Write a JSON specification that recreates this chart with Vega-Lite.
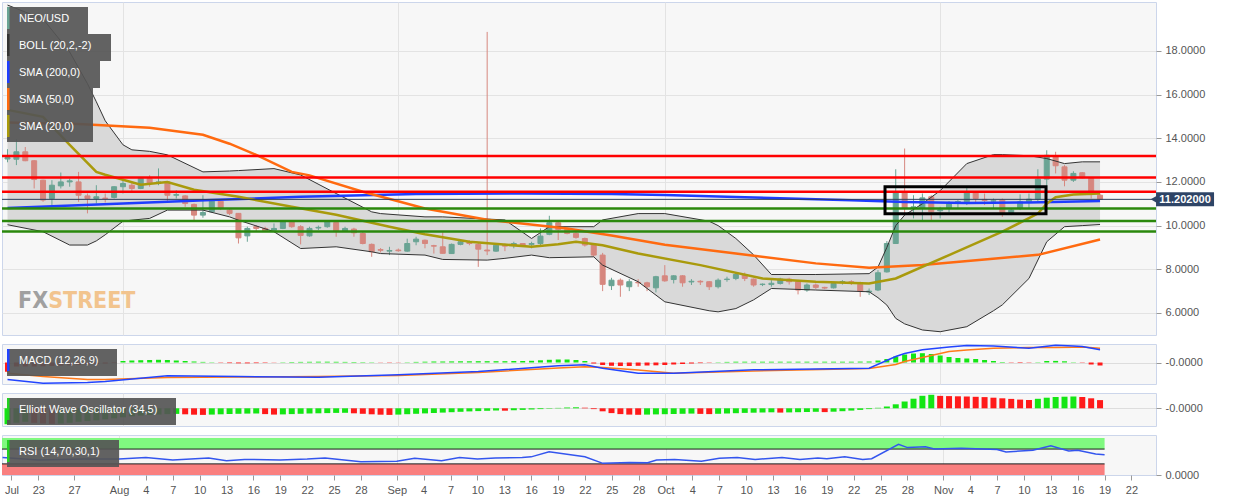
{
 "$schema": "https://vega.github.io/schema/vega-lite/v6.json",
 "padding": {"left": 0, "top": 1, "right": 0, "bottom": 0},
 "background": "#ffffff",
 "spacing": 7,
 "datasets": {
  "ohlc": [
   {"date":"2019-07-19","o":13.05,"h":13.5,"l":12.9,"c":13.12,"mh":-9.3,"ewo":-16,"ec":"up"},
   {"date":"2019-07-20","o":13.04,"h":13.96,"l":12.77,"c":13.38,"mh":-4,"ewo":-14.5,"ec":"up"},
   {"date":"2019-07-21","o":13.38,"h":13.6,"l":12.95,"c":12.97,"mh":-4,"ewo":-13.5,"ec":"up"},
   {"date":"2019-07-22","o":12.97,"h":13.0,"l":11.7,"c":12.11,"mh":-4,"ewo":-14.5,"ec":"dn"},
   {"date":"2019-07-23","o":12.08,"h":12.1,"l":11.09,"c":11.17,"mh":-3.8,"ewo":-15.2,"ec":"dn"},
   {"date":"2019-07-24","o":11.24,"h":12.08,"l":10.86,"c":11.85,"mh":-3.5,"ewo":-15.5,"ec":"dn"},
   {"date":"2019-07-25","o":11.82,"h":12.43,"l":11.7,"c":12.0,"mh":-3.2,"ewo":-15.3,"ec":"up"},
   {"date":"2019-07-26","o":12.0,"h":12.16,"l":11.78,"c":12.05,"mh":-2.8,"ewo":-14.5,"ec":"up"},
   {"date":"2019-07-27","o":12.0,"h":12.46,"l":11.09,"c":11.39,"mh":-2.4,"ewo":-13.5,"ec":"up"},
   {"date":"2019-07-28","o":11.36,"h":11.47,"l":10.56,"c":11.24,"mh":-2,"ewo":-12.8,"ec":"up"},
   {"date":"2019-07-29","o":11.24,"h":11.85,"l":11.01,"c":11.32,"mh":-1.5,"ewo":-12,"ec":"up"},
   {"date":"2019-07-30","o":11.26,"h":11.47,"l":11.06,"c":11.24,"mh":-1,"ewo":-11,"ec":"up"},
   {"date":"2019-07-31","o":11.29,"h":11.8,"l":11.24,"c":11.78,"mh":-0.5,"ewo":-10,"ec":"up"},
   {"date":"2019-08-01","o":11.78,"h":12.16,"l":11.47,"c":11.93,"mh":1.5,"ewo":-9,"ec":"up"},
   {"date":"2019-08-02","o":11.85,"h":12.0,"l":11.55,"c":11.7,"mh":2,"ewo":-8,"ec":"up"},
   {"date":"2019-08-03","o":11.7,"h":12.18,"l":11.67,"c":12.16,"mh":2.3,"ewo":-7.3,"ec":"up"},
   {"date":"2019-08-04","o":12.16,"h":12.31,"l":11.78,"c":11.93,"mh":2.5,"ewo":-6.7,"ec":"up"},
   {"date":"2019-08-05","o":11.95,"h":12.62,"l":11.85,"c":12.0,"mh":2.7,"ewo":-6.2,"ec":"up"},
   {"date":"2019-08-06","o":12.0,"h":12.02,"l":11.09,"c":11.39,"mh":2.5,"ewo":-5.8,"ec":"up"},
   {"date":"2019-08-07","o":11.39,"h":11.62,"l":11.24,"c":11.42,"mh":2,"ewo":-5.6,"ec":"up"},
   {"date":"2019-08-08","o":11.36,"h":11.39,"l":10.86,"c":11.01,"mh":1.5,"ewo":-6,"ec":"dn"},
   {"date":"2019-08-09","o":10.97,"h":11.01,"l":10.25,"c":10.48,"mh":1,"ewo":-6.4,"ec":"dn"},
   {"date":"2019-08-10","o":10.48,"h":11.39,"l":10.36,"c":10.6,"mh":0.6,"ewo":-6.6,"ec":"dn"},
   {"date":"2019-08-11","o":10.63,"h":11.17,"l":10.6,"c":11.12,"mh":0.3,"ewo":-6.3,"ec":"up"},
   {"date":"2019-08-12","o":11.12,"h":11.17,"l":10.71,"c":10.78,"mh":-0.3,"ewo":-6,"ec":"up"},
   {"date":"2019-08-13","o":10.71,"h":10.78,"l":10.48,"c":10.56,"mh":-0.6,"ewo":-5.7,"ec":"up"},
   {"date":"2019-08-14","o":10.56,"h":10.57,"l":9.18,"c":9.44,"mh":-0.8,"ewo":-5.5,"ec":"up"},
   {"date":"2019-08-15","o":9.53,"h":9.95,"l":9.26,"c":9.87,"mh":-0.8,"ewo":-5.3,"ec":"up"},
   {"date":"2019-08-16","o":9.95,"h":10.02,"l":9.72,"c":9.87,"mh":-0.6,"ewo":-5.2,"ec":"up"},
   {"date":"2019-08-17","o":9.87,"h":9.95,"l":9.72,"c":9.76,"mh":-0.4,"ewo":-5.8,"ec":"dn"},
   {"date":"2019-08-18","o":9.79,"h":10.1,"l":9.72,"c":9.87,"mh":-0.2,"ewo":-6.3,"ec":"dn"},
   {"date":"2019-08-19","o":9.87,"h":10.2,"l":9.84,"c":10.17,"mh":0.3,"ewo":-6.1,"ec":"up"},
   {"date":"2019-08-20","o":10.2,"h":10.25,"l":9.9,"c":9.95,"mh":0.5,"ewo":-5.8,"ec":"up"},
   {"date":"2019-08-21","o":9.95,"h":10.02,"l":9.14,"c":9.55,"mh":0.6,"ewo":-5.5,"ec":"up"},
   {"date":"2019-08-22","o":9.53,"h":9.95,"l":9.49,"c":9.87,"mh":0.7,"ewo":-5.2,"ec":"up"},
   {"date":"2019-08-23","o":9.89,"h":10.0,"l":9.8,"c":9.92,"mh":0.8,"ewo":-5,"ec":"up"},
   {"date":"2019-08-24","o":9.95,"h":10.25,"l":9.9,"c":10.17,"mh":0.8,"ewo":-4.8,"ec":"up"},
   {"date":"2019-08-25","o":10.14,"h":10.2,"l":9.49,"c":9.75,"mh":0.7,"ewo":-4.6,"ec":"up"},
   {"date":"2019-08-26","o":9.75,"h":9.95,"l":9.72,"c":9.87,"mh":0.6,"ewo":-4.5,"ec":"up"},
   {"date":"2019-08-27","o":9.84,"h":9.9,"l":9.49,"c":9.67,"mh":0.5,"ewo":-5,"ec":"dn"},
   {"date":"2019-08-28","o":9.64,"h":9.72,"l":9.14,"c":9.18,"mh":0.4,"ewo":-5.5,"ec":"dn"},
   {"date":"2019-08-29","o":9.14,"h":9.18,"l":8.57,"c":8.8,"mh":0.3,"ewo":-6,"ec":"dn"},
   {"date":"2019-08-30","o":8.9,"h":8.97,"l":8.77,"c":8.87,"mh":-0.2,"ewo":-6.4,"ec":"dn"},
   {"date":"2019-08-31","o":8.83,"h":9.03,"l":8.65,"c":8.86,"mh":-0.3,"ewo":-6.6,"ec":"dn"},
   {"date":"2019-09-01","o":8.88,"h":8.95,"l":8.8,"c":8.85,"mh":-0.2,"ewo":-6.3,"ec":"up"},
   {"date":"2019-09-02","o":8.83,"h":9.4,"l":8.8,"c":9.18,"mh":0.3,"ewo":-5.9,"ec":"up"},
   {"date":"2019-09-03","o":9.26,"h":9.49,"l":9.1,"c":9.38,"mh":0.6,"ewo":-5.5,"ec":"up"},
   {"date":"2019-09-04","o":9.33,"h":9.36,"l":8.96,"c":9.18,"mh":0.8,"ewo":-5.1,"ec":"up"},
   {"date":"2019-09-05","o":9.08,"h":9.12,"l":8.72,"c":9.06,"mh":1,"ewo":-4.7,"ec":"up"},
   {"date":"2019-09-06","o":9.03,"h":9.69,"l":8.72,"c":8.73,"mh":1,"ewo":-4.3,"ec":"up"},
   {"date":"2019-09-07","o":8.72,"h":9.18,"l":8.7,"c":9.14,"mh":1.1,"ewo":-3.9,"ec":"up"},
   {"date":"2019-09-08","o":9.14,"h":9.3,"l":9.1,"c":9.26,"mh":1.2,"ewo":-3.5,"ec":"up"},
   {"date":"2019-09-09","o":9.26,"h":9.33,"l":9.1,"c":9.18,"mh":1.2,"ewo":-3.1,"ec":"up"},
   {"date":"2019-09-10","o":9.14,"h":9.2,"l":8.11,"c":8.92,"mh":1.3,"ewo":-2.8,"ec":"up"},
   {"date":"2019-09-11","o":8.88,"h":18.87,"l":8.65,"c":8.84,"mh":1.3,"ewo":-2.5,"ec":"up"},
   {"date":"2019-09-12","o":8.83,"h":9.18,"l":8.8,"c":9.1,"mh":1.3,"ewo":-2.2,"ec":"up"},
   {"date":"2019-09-13","o":9.1,"h":9.18,"l":8.83,"c":9.06,"mh":1.3,"ewo":-2.4,"ec":"dn"},
   {"date":"2019-09-14","o":9.1,"h":9.26,"l":8.96,"c":9.18,"mh":1.4,"ewo":-2,"ec":"up"},
   {"date":"2019-09-15","o":9.18,"h":9.2,"l":9.05,"c":9.1,"mh":1.5,"ewo":-1.6,"ec":"up"},
   {"date":"2019-09-16","o":9.14,"h":9.26,"l":8.96,"c":9.18,"mh":1.7,"ewo":-1.2,"ec":"up"},
   {"date":"2019-09-17","o":9.18,"h":9.87,"l":9.1,"c":9.52,"mh":2.2,"ewo":-0.8,"ec":"up"},
   {"date":"2019-09-18","o":9.6,"h":10.45,"l":9.56,"c":10.13,"mh":2.7,"ewo":-0.4,"ec":"up"},
   {"date":"2019-09-19","o":10.13,"h":10.18,"l":9.34,"c":9.82,"mh":3,"ewo":0.4,"ec":"up"},
   {"date":"2019-09-20","o":9.82,"h":9.9,"l":9.6,"c":9.64,"mh":3,"ewo":0.8,"ec":"up"},
   {"date":"2019-09-21","o":9.64,"h":9.7,"l":9.4,"c":9.46,"mh":2.5,"ewo":1,"ec":"up"},
   {"date":"2019-09-22","o":9.41,"h":9.45,"l":9.04,"c":9.11,"mh":1.5,"ewo":0.6,"ec":"dn"},
   {"date":"2019-09-23","o":9.15,"h":9.2,"l":8.57,"c":8.65,"mh":-1,"ewo":-0.8,"ec":"dn"},
   {"date":"2019-09-24","o":8.65,"h":8.75,"l":7.0,"c":7.31,"mh":-2.5,"ewo":-3,"ec":"dn"},
   {"date":"2019-09-25","o":7.25,"h":7.61,"l":7.05,"c":7.5,"mh":-3.3,"ewo":-4.8,"ec":"dn"},
   {"date":"2019-09-26","o":7.5,"h":7.58,"l":6.74,"c":7.28,"mh":-3.5,"ewo":-5.8,"ec":"dn"},
   {"date":"2019-09-27","o":7.2,"h":7.55,"l":7.0,"c":7.43,"mh":-3.5,"ewo":-6.3,"ec":"dn"},
   {"date":"2019-09-28","o":7.4,"h":7.55,"l":7.2,"c":7.38,"mh":-3.3,"ewo":-6.5,"ec":"dn"},
   {"date":"2019-09-29","o":7.38,"h":7.43,"l":7.0,"c":7.2,"mh":-3,"ewo":-6.3,"ec":"up"},
   {"date":"2019-09-30","o":7.15,"h":7.7,"l":6.94,"c":7.66,"mh":-2.8,"ewo":-6.1,"ec":"up"},
   {"date":"2019-10-01","o":7.7,"h":8.19,"l":7.43,"c":7.47,"mh":-2.5,"ewo":-5.9,"ec":"up"},
   {"date":"2019-10-02","o":7.53,"h":7.73,"l":7.35,"c":7.7,"mh":-2,"ewo":-5.7,"ec":"up"},
   {"date":"2019-10-03","o":7.7,"h":7.73,"l":7.2,"c":7.38,"mh":-1.5,"ewo":-5.5,"ec":"up"},
   {"date":"2019-10-04","o":7.42,"h":7.55,"l":7.28,"c":7.45,"mh":-1,"ewo":-5.3,"ec":"up"},
   {"date":"2019-10-05","o":7.45,"h":7.5,"l":7.28,"c":7.42,"mh":-0.6,"ewo":-5.6,"ec":"dn"},
   {"date":"2019-10-06","o":7.43,"h":7.46,"l":7.05,"c":7.2,"mh":-0.3,"ewo":-5.8,"ec":"dn"},
   {"date":"2019-10-07","o":7.2,"h":7.58,"l":7.12,"c":7.5,"mh":0.3,"ewo":-5.5,"ec":"up"},
   {"date":"2019-10-08","o":7.53,"h":7.66,"l":7.43,"c":7.55,"mh":0.6,"ewo":-5.2,"ec":"up"},
   {"date":"2019-10-09","o":7.58,"h":7.85,"l":7.5,"c":7.76,"mh":0.8,"ewo":-4.9,"ec":"up"},
   {"date":"2019-10-10","o":7.76,"h":7.85,"l":7.46,"c":7.58,"mh":0.8,"ewo":-4.6,"ec":"up"},
   {"date":"2019-10-11","o":7.55,"h":7.58,"l":7.2,"c":7.28,"mh":0.8,"ewo":-4.4,"ec":"up"},
   {"date":"2019-10-12","o":7.3,"h":7.35,"l":7.23,"c":7.32,"mh":0.8,"ewo":-4.2,"ec":"up"},
   {"date":"2019-10-13","o":7.3,"h":7.5,"l":7.2,"c":7.36,"mh":0.8,"ewo":-4,"ec":"up"},
   {"date":"2019-10-14","o":7.35,"h":7.61,"l":7.3,"c":7.55,"mh":0.8,"ewo":-4.3,"ec":"dn"},
   {"date":"2019-10-15","o":7.55,"h":7.61,"l":7.3,"c":7.43,"mh":0.8,"ewo":-4.1,"ec":"up"},
   {"date":"2019-10-16","o":7.43,"h":7.46,"l":6.85,"c":7.05,"mh":0.8,"ewo":-3.9,"ec":"up"},
   {"date":"2019-10-17","o":7.05,"h":7.35,"l":6.97,"c":7.28,"mh":0.8,"ewo":-3.7,"ec":"up"},
   {"date":"2019-10-18","o":7.28,"h":7.35,"l":7.09,"c":7.17,"mh":0.8,"ewo":-3.5,"ec":"up"},
   {"date":"2019-10-19","o":7.17,"h":7.2,"l":7.09,"c":7.14,"mh":0.8,"ewo":-3.8,"ec":"dn"},
   {"date":"2019-10-20","o":7.15,"h":7.43,"l":7.12,"c":7.35,"mh":0.8,"ewo":-3.4,"ec":"up"},
   {"date":"2019-10-21","o":7.42,"h":7.5,"l":7.3,"c":7.44,"mh":0.8,"ewo":-2.9,"ec":"up"},
   {"date":"2019-10-22","o":7.43,"h":7.5,"l":7.28,"c":7.35,"mh":0.8,"ewo":-2.3,"ec":"up"},
   {"date":"2019-10-23","o":7.31,"h":7.43,"l":6.74,"c":7.0,"mh":0.9,"ewo":-1.6,"ec":"up"},
   {"date":"2019-10-24","o":6.96,"h":7.12,"l":6.82,"c":7.0,"mh":1,"ewo":-0.8,"ec":"up"},
   {"date":"2019-10-25","o":7.05,"h":7.96,"l":7.0,"c":7.84,"mh":2,"ewo":0.5,"ec":"up"},
   {"date":"2019-10-26","o":7.88,"h":9.29,"l":7.85,"c":9.18,"mh":3.5,"ewo":1.8,"ec":"up"},
   {"date":"2019-10-27","o":9.18,"h":12.58,"l":9.18,"c":11.55,"mh":6,"ewo":4,"ec":"up"},
   {"date":"2019-10-28","o":11.55,"h":13.53,"l":10.55,"c":10.81,"mh":8,"ewo":6.8,"ec":"up"},
   {"date":"2019-10-29","o":10.78,"h":11.39,"l":10.33,"c":10.86,"mh":9,"ewo":9.6,"ec":"up"},
   {"date":"2019-10-30","o":10.81,"h":11.47,"l":10.25,"c":11.27,"mh":9.3,"ewo":12.5,"ec":"up"},
   {"date":"2019-10-31","o":11.32,"h":11.39,"l":10.25,"c":10.63,"mh":8.5,"ewo":13.5,"ec":"up"},
   {"date":"2019-11-01","o":10.68,"h":10.86,"l":10.33,"c":10.72,"mh":7,"ewo":12.4,"ec":"dn"},
   {"date":"2019-11-02","o":10.81,"h":11.12,"l":10.6,"c":11.01,"mh":5.5,"ewo":12.2,"ec":"dn"},
   {"date":"2019-11-03","o":11.08,"h":11.17,"l":10.78,"c":11.1,"mh":4.5,"ewo":12,"ec":"dn"},
   {"date":"2019-11-04","o":11.09,"h":11.73,"l":10.94,"c":11.55,"mh":4,"ewo":11.8,"ec":"dn"},
   {"date":"2019-11-05","o":11.52,"h":11.55,"l":11.06,"c":11.24,"mh":3.5,"ewo":11.5,"ec":"dn"},
   {"date":"2019-11-06","o":11.2,"h":11.47,"l":10.94,"c":11.15,"mh":2.5,"ewo":11.2,"ec":"dn"},
   {"date":"2019-11-07","o":11.12,"h":11.24,"l":10.78,"c":11.14,"mh":1.5,"ewo":10.6,"ec":"dn"},
   {"date":"2019-11-08","o":11.17,"h":11.24,"l":10.4,"c":10.6,"mh":0.5,"ewo":10,"ec":"dn"},
   {"date":"2019-11-09","o":10.6,"h":10.78,"l":10.48,"c":10.71,"mh":-0.3,"ewo":9.4,"ec":"dn"},
   {"date":"2019-11-10","o":10.78,"h":11.43,"l":10.71,"c":11.09,"mh":-0.5,"ewo":8.7,"ec":"dn"},
   {"date":"2019-11-11","o":11.09,"h":11.47,"l":10.78,"c":11.21,"mh":-0.3,"ewo":8.4,"ec":"dn"},
   {"date":"2019-11-12","o":11.21,"h":12.58,"l":11.09,"c":12.13,"mh":0.3,"ewo":9.5,"ec":"up"},
   {"date":"2019-11-13","o":12.13,"h":13.45,"l":11.58,"c":13.22,"mh":1.5,"ewo":10.6,"ec":"up"},
   {"date":"2019-11-14","o":13.18,"h":13.38,"l":12.39,"c":12.74,"mh":1.6,"ewo":11.3,"ec":"up"},
   {"date":"2019-11-15","o":12.69,"h":12.77,"l":11.8,"c":12.08,"mh":1.2,"ewo":11.6,"ec":"up"},
   {"date":"2019-11-16","o":12.08,"h":12.49,"l":12.0,"c":12.39,"mh":0.3,"ewo":11.8,"ec":"up"},
   {"date":"2019-11-17","o":12.42,"h":12.45,"l":12.16,"c":12.19,"mh":-0.3,"ewo":11.3,"ec":"dn"},
   {"date":"2019-11-18","o":12.16,"h":12.2,"l":11.24,"c":11.42,"mh":-2,"ewo":10,"ec":"dn"},
   {"date":"2019-11-19","o":11.39,"h":11.47,"l":11.2,"c":11.202,"mh":-3,"ewo":8.2,"ec":"dn"}
  ],
  "boll": [
   {"date":"2019-07-19","up":20.1,"lo":10.04},{"date":"2019-07-23","up":19.46,"lo":9.72},
   {"date":"2019-07-26","up":17.95,"lo":9.11},{"date":"2019-07-28","up":16.5,"lo":9.11},
   {"date":"2019-07-29","up":15.67,"lo":9.3},{"date":"2019-07-30","up":14.8,"lo":9.58},
   {"date":"2019-08-01","up":13.7,"lo":10.2},{"date":"2019-08-02","up":13.47,"lo":10.25},
   {"date":"2019-08-04","up":13.4,"lo":10.33},{"date":"2019-08-06","up":13.24,"lo":10.71},
   {"date":"2019-08-10","up":12.46,"lo":10.71},{"date":"2019-08-13","up":12.5,"lo":10.4},
   {"date":"2019-08-14","up":12.52,"lo":10.25},{"date":"2019-08-18","up":12.61,"lo":9.72},
   {"date":"2019-08-21","up":12.32,"lo":8.95},{"date":"2019-08-25","up":11.47,"lo":9.03},
   {"date":"2019-08-29","up":10.63,"lo":8.8},{"date":"2019-08-30","up":10.55,"lo":8.72},
   {"date":"2019-09-04","up":10.4,"lo":8.65},{"date":"2019-09-06","up":10.4,"lo":8.45},
   {"date":"2019-09-11","up":10.3,"lo":8.42},{"date":"2019-09-13","up":10.26,"lo":8.5},
   {"date":"2019-09-16","up":9.41,"lo":8.65},{"date":"2019-09-18","up":9.95,"lo":8.53},
   {"date":"2019-09-23","up":9.95,"lo":8.57},{"date":"2019-09-24","up":10.26,"lo":8.19},
   {"date":"2019-09-28","up":10.55,"lo":7.43},{"date":"2019-10-01","up":10.55,"lo":6.51},
   {"date":"2019-10-06","up":10.2,"lo":6.1},{"date":"2019-10-07","up":10.0,"lo":6.05},
   {"date":"2019-10-09","up":9.41,"lo":6.2},{"date":"2019-10-11","up":8.66,"lo":6.6},
   {"date":"2019-10-13","up":7.76,"lo":7.12},{"date":"2019-10-18","up":7.76,"lo":7.05},
   {"date":"2019-10-24","up":7.8,"lo":6.97},{"date":"2019-10-25","up":8.1,"lo":6.7},
   {"date":"2019-10-26","up":9.0,"lo":6.36},{"date":"2019-10-27","up":10.0,"lo":5.75},
   {"date":"2019-10-28","up":10.48,"lo":5.5},{"date":"2019-10-30","up":11.0,"lo":5.22},
   {"date":"2019-11-01","up":11.6,"lo":5.14},{"date":"2019-11-04","up":12.84,"lo":5.37},
   {"date":"2019-11-07","up":13.25,"lo":6.1},{"date":"2019-11-08","up":13.25,"lo":6.37},
   {"date":"2019-11-11","up":13.2,"lo":7.58},{"date":"2019-11-13","up":13.07,"lo":9.26},
   {"date":"2019-11-15","up":12.84,"lo":9.95},{"date":"2019-11-17","up":12.92,"lo":10.0},
   {"date":"2019-11-19","up":12.92,"lo":10.05}
  ],
  "sma200": [
   {"date":"2019-07-19","v":10.81},{"date":"2019-08-01","v":11.01},{"date":"2019-08-11","v":11.17},
   {"date":"2019-08-21","v":11.32},{"date":"2019-09-03","v":11.45},{"date":"2019-09-15","v":11.47},
   {"date":"2019-09-25","v":11.45},{"date":"2019-10-01","v":11.4},{"date":"2019-10-10","v":11.3},
   {"date":"2019-10-15","v":11.24},{"date":"2019-10-22","v":11.16},{"date":"2019-10-28","v":11.08},
   {"date":"2019-11-04","v":11.04},{"date":"2019-11-11","v":11.06},{"date":"2019-11-19","v":11.13}
  ],
  "sma50": [
   {"date":"2019-07-19","v":14.72},{"date":"2019-07-27","v":14.65},{"date":"2019-08-04","v":14.48},
   {"date":"2019-08-10","v":14.16},{"date":"2019-08-13","v":13.75},{"date":"2019-08-16","v":13.24},
   {"date":"2019-08-20","v":12.46},{"date":"2019-08-22","v":12.3},{"date":"2019-08-28","v":11.55},
   {"date":"2019-09-04","v":10.78},{"date":"2019-09-11","v":10.27},{"date":"2019-09-20","v":9.87},
   {"date":"2019-09-25","v":9.55},{"date":"2019-10-01","v":9.12},{"date":"2019-10-09","v":8.72},
   {"date":"2019-10-18","v":8.27},{"date":"2019-10-24","v":8.07},{"date":"2019-10-30","v":8.2},
   {"date":"2019-11-06","v":8.45},{"date":"2019-11-12","v":8.66},{"date":"2019-11-19","v":9.36}
  ],
  "sma20": [
   {"date":"2019-07-19","v":15.3},{"date":"2019-07-23","v":14.98},{"date":"2019-07-26","v":13.7},
   {"date":"2019-07-29","v":12.46},{"date":"2019-07-30","v":12.33},{"date":"2019-08-03","v":11.87},
   {"date":"2019-08-06","v":12.0},{"date":"2019-08-09","v":11.64},{"date":"2019-08-14","v":11.32},
   {"date":"2019-08-20","v":10.86},{"date":"2019-08-25","v":10.5},{"date":"2019-08-31","v":9.95},
   {"date":"2019-09-04","v":9.6},{"date":"2019-09-09","v":9.26},{"date":"2019-09-16","v":9.03},
   {"date":"2019-09-19","v":9.15},{"date":"2019-09-21","v":9.26},{"date":"2019-09-24","v":9.1},
   {"date":"2019-09-28","v":8.72},{"date":"2019-10-05","v":8.19},{"date":"2019-10-12","v":7.58},
   {"date":"2019-10-18","v":7.43},{"date":"2019-10-24","v":7.35},{"date":"2019-10-27","v":7.58},
   {"date":"2019-11-02","v":8.65},{"date":"2019-11-08","v":9.72},{"date":"2019-11-12","v":10.55},
   {"date":"2019-11-13","v":11.0},{"date":"2019-11-14","v":11.3},{"date":"2019-11-16","v":11.42},
   {"date":"2019-11-19","v":11.47}
  ],
  "macd": [
   {"date":"2019-07-19","m":-17,"s":-10.7},{"date":"2019-07-23","m":-20.7,"s":-14},
   {"date":"2019-07-28","m":-20,"s":-17},{"date":"2019-07-30","m":-19,"s":-17},
   {"date":"2019-08-06","m":-13.3,"s":-15},{"date":"2019-08-14","m":-14,"s":-14.5},
   {"date":"2019-08-23","m":-14.7,"s":-14},{"date":"2019-09-01","m":-12.3,"s":-13},
   {"date":"2019-09-10","m":-9,"s":-10},{"date":"2019-09-19","m":-3.3,"s":-5.5},
   {"date":"2019-09-22","m":-2.3,"s":-4.3},{"date":"2019-09-24","m":-5.7,"s":-5},
   {"date":"2019-09-28","m":-10.7,"s":-7.5},{"date":"2019-10-02","m":-10.7,"s":-10.7},
   {"date":"2019-10-11","m":-7.3,"s":-8.5},{"date":"2019-10-24","m":-5.7,"s":-6},
   {"date":"2019-10-27","m":6,"s":-2},{"date":"2019-10-28","m":9,"s":1},
   {"date":"2019-10-30","m":12.7,"s":5},{"date":"2019-11-02","m":15.5,"s":11},
   {"date":"2019-11-04","m":17,"s":12.5},{"date":"2019-11-07","m":16.5,"s":14.3},
   {"date":"2019-11-11","m":14.3,"s":15},{"date":"2019-11-14","m":17.3,"s":15},
   {"date":"2019-11-16","m":16.5,"s":15.3},{"date":"2019-11-17","m":16,"s":15.5},
   {"date":"2019-11-19","m":12.7,"s":14.3}
  ],
  "rsi": [
   {"date":"2019-07-19","v":47},{"date":"2019-07-23","v":40.5},{"date":"2019-07-28","v":43},
   {"date":"2019-08-01","v":43},{"date":"2019-08-04","v":47},{"date":"2019-08-07","v":40.5},
   {"date":"2019-08-11","v":46},{"date":"2019-08-13","v":38.7},{"date":"2019-08-15","v":42},
   {"date":"2019-08-19","v":40.5},{"date":"2019-08-22","v":43},{"date":"2019-08-24","v":46},
   {"date":"2019-08-28","v":36},{"date":"2019-09-01","v":37},{"date":"2019-09-03","v":45},
   {"date":"2019-09-06","v":38.7},{"date":"2019-09-08","v":47},{"date":"2019-09-10","v":43},
   {"date":"2019-09-12","v":46},{"date":"2019-09-15","v":47},{"date":"2019-09-16","v":49},
   {"date":"2019-09-18","v":63},{"date":"2019-09-22","v":49},{"date":"2019-09-24","v":31.5},
   {"date":"2019-09-27","v":34},{"date":"2019-09-29","v":33},{"date":"2019-09-30","v":40.5},
   {"date":"2019-10-02","v":42},{"date":"2019-10-05","v":37},{"date":"2019-10-07","v":45},
   {"date":"2019-10-09","v":47},{"date":"2019-10-11","v":42},{"date":"2019-10-14","v":47},
   {"date":"2019-10-16","v":42},{"date":"2019-10-18","v":46},{"date":"2019-10-19","v":44},
   {"date":"2019-10-21","v":49},{"date":"2019-10-23","v":42},{"date":"2019-10-24","v":44},
   {"date":"2019-10-27","v":83},{"date":"2019-10-28","v":74},{"date":"2019-10-30","v":76},
   {"date":"2019-10-31","v":70},{"date":"2019-11-03","v":72.5},{"date":"2019-11-07","v":69},
   {"date":"2019-11-08","v":62},{"date":"2019-11-11","v":67},{"date":"2019-11-13","v":79},
   {"date":"2019-11-15","v":65},{"date":"2019-11-16","v":67},{"date":"2019-11-18","v":56.5},
   {"date":"2019-11-19","v":55}
  ],
  "levels": [
   {"p":13.19,"k":"r"},{"p":12.2,"k":"r"},{"p":11.55,"k":"r"},
   {"p":10.78,"k":"g"},{"p":10.21,"k":"g"},{"p":9.73,"k":"g"}
  ],
  "last": [{"date":"2019-11-19","p":11.202,"lab":"11.202000"}],
  "box": [{"s":"2019-10-25T19:00:00Z","e":"2019-11-12T22:00:00Z","t":11.78,"b":10.54}],
  "zones": [
   {"s":"2019-07-18","e":"2019-11-19","lo":70,"hi":100,"edge":70,"z":"ob"},
   {"s":"2019-07-18","e":"2019-11-19","lo":0,"hi":30,"edge":30,"z":"os"}
  ],
  "wm": [{"a":"FX","b":"STREET"}]
 },
 "vconcat": [
  {
   "width": 1154, "height": 333,
   "layer": [
    {"data": {"name": "boll"},
     "mark": {"type": "area", "color": "#d9d9d9", "clip": true},
     "encoding": {
      "x": {"field": "date", "type": "temporal", "title": null,
            "scale": {"type": "utc", "domain": [1563489400000, 1574617300000]},
            "axis": {"values": [1564617600000, 1567296000000, 1569888000000, 1572566400000], "tickCount": 100, "labels": false, "ticks": false, "grid": true}},
      "y": {"field": "up", "type": "quantitative", "title": null,
            "scale": {"domain": [4.99, 20.24], "nice": false, "zero": false},
            "axis": {"orient": "right", "values": [6, 8, 10, 12, 14, 16, 18], "format": ".4f", "grid": true}},
      "y2": {"field": "lo"}
     }},
    {"data": {"name": "ohlc"},
     "mark": {"type": "rule", "strokeWidth": 1, "clip": true},
     "encoding": {
      "x": {"field": "date", "type": "temporal", "title": null},
      "y": {"field": "l", "type": "quantitative", "title": null},
      "y2": {"field": "h"},
      "color": {"condition": {"test": "datum.c < datum.o", "value": "#d6877f"}, "datum": "NEO/USD",
                "scale": {"range": ["#6aa494"]},
                "legend": {"title": null, "symbolType": "M-1.417,-1.833V5.5", "labelExpr": "datum.label + '      \u200b'",
                           "encode": {"symbols": {"update": {"stroke": {"value": "#2e8b78"}, "strokeWidth": {"value": 2.5}}}}}}
     }},
    {"data": {"name": "ohlc"},
     "mark": {"type": "bar", "width": 5, "strokeWidth": 1, "clip": true},
     "encoding": {
      "x": {"field": "date", "type": "temporal", "title": null},
      "y": {"field": "o", "type": "quantitative", "title": null},
      "y2": {"field": "c"},
      "color": {"condition": {"test": "datum.c < datum.o", "value": "#d6877f"}, "value": "#6aa494"},
      "stroke": {"condition": {"test": "datum.c < datum.o", "value": "#d6877f"}, "value": "#6aa494"}
     }},
    {"data": {"name": "boll"},
     "mark": {"type": "line", "strokeWidth": 1, "clip": true},
     "encoding": {
      "x": {"field": "date", "type": "temporal", "title": null},
      "y": {"field": "up", "type": "quantitative", "title": null},
      "color": {"datum": "BOLL (20,2,-2)", "scale": {"range": ["#333333"]},
                "legend": {"title": null, "symbolType": "M-1.417,-1.833V5.5", "labelExpr": "datum.label + '      \u200b'",
                           "encode": {"symbols": {"update": {"stroke": {"value": "#000000"}, "strokeWidth": {"value": 2.5}}}}}}
     }},
    {"data": {"name": "boll"},
     "mark": {"type": "line", "strokeWidth": 1, "color": "#333333", "clip": true},
     "encoding": {
      "x": {"field": "date", "type": "temporal", "title": null},
      "y": {"field": "lo", "type": "quantitative", "title": null}
     }},
    {"data": {"name": "sma200"},
     "mark": {"type": "line", "strokeWidth": 2.5, "clip": true},
     "encoding": {
      "x": {"field": "date", "type": "temporal", "title": null},
      "y": {"field": "v", "type": "quantitative", "title": null},
      "color": {"datum": "SMA (200,0)", "scale": {"range": ["#1e3dff"]},
                "legend": {"title": null, "symbolType": "M-1.417,-1.833V5.5", "labelExpr": "datum.label + '      \u200b'",
                           "encode": {"symbols": {"update": {"stroke": {"value": "#1e3dff"}, "strokeWidth": {"value": 2.5}}}}}}
     }},
    {"data": {"name": "sma50"},
     "mark": {"type": "line", "strokeWidth": 2.5, "clip": true},
     "encoding": {
      "x": {"field": "date", "type": "temporal", "title": null},
      "y": {"field": "v", "type": "quantitative", "title": null},
      "color": {"datum": "SMA (50,0)", "scale": {"range": ["#ff6a10"]},
                "legend": {"title": null, "symbolType": "M-1.417,-1.833V5.5", "labelExpr": "datum.label + '      \u200b'",
                           "encode": {"symbols": {"update": {"stroke": {"value": "#ff6a10"}, "strokeWidth": {"value": 2.5}}}}}}
     }},
    {"data": {"name": "sma20"},
     "mark": {"type": "line", "strokeWidth": 2.5, "clip": true},
     "encoding": {
      "x": {"field": "date", "type": "temporal", "title": null},
      "y": {"field": "v", "type": "quantitative", "title": null},
      "color": {"datum": "SMA (20,0)", "scale": {"range": ["#a99a0c"]},
                "legend": {"title": null, "symbolType": "M-1.417,-1.833V5.5", "labelExpr": "datum.label + '      \u200b'",
                           "encode": {"symbols": {"update": {"stroke": {"value": "#a99a0c"}, "strokeWidth": {"value": 2.5}}}}}}
     }},
    {"data": {"name": "levels"},
     "mark": {"type": "rule", "strokeWidth": 2.5},
     "encoding": {
      "y": {"field": "p", "type": "quantitative", "title": null},
      "color": {"field": "k", "type": "nominal", "scale": {"domain": ["r", "g"], "range": ["#ff0000", "#2a880c"]}, "legend": null}
     }},
    {"data": {"name": "last"},
     "mark": {"type": "rule", "strokeWidth": 1, "color": "#2c3e5a"},
     "encoding": {
      "y": {"field": "p", "type": "quantitative", "title": null}
     }},
    {"data": {"name": "box"},
     "mark": {"type": "rect", "filled": false, "color": "#000000", "strokeWidth": 3},
     "encoding": {
      "x": {"field": "s", "type": "temporal", "title": null},
      "x2": {"field": "e"},
      "y": {"field": "t", "type": "quantitative", "title": null},
      "y2": {"field": "b"}
     }},
    {"data": {"name": "last"},
     "mark": {"type": "rect", "color": "#2e4466", "xOffset": 56, "x2Offset": 114, "yOffset": -7, "y2Offset": 7, "clip": false},
     "encoding": {
      "x": {"field": "date", "type": "temporal", "title": null},
      "x2": {"field": "date"},
      "y": {"field": "p", "type": "quantitative", "title": null},
      "y2": {"field": "p"}
     }},
    {"data": {"name": "last"},
     "mark": {"type": "point", "shape": "triangle-left", "filled": true, "size": 60, "color": "#2e4466", "opacity": 1, "xOffset": 54, "clip": false},
     "encoding": {
      "x": {"field": "date", "type": "temporal", "title": null},
      "y": {"field": "p", "type": "quantitative", "title": null}
     }},
    {"data": {"name": "last"},
     "mark": {"type": "text", "dx": 85, "dy": 0.5, "font": "Liberation Sans", "fontSize": 11, "fontWeight": "bold", "color": "#ffffff", "align": "center", "baseline": "middle", "clip": false},
     "encoding": {
      "x": {"field": "date", "type": "temporal", "title": null},
      "y": {"field": "p", "type": "quantitative", "title": null},
      "text": {"field": "lab"}
     }},
    {"data": {"name": "wm"},
     "mark": {"type": "text", "font": "Liberation Sans Narrow, DejaVu Sans Condensed, Liberation Sans", "fontSize": 23, "fontWeight": "bold", "color": "#a0a0a0", "align": "right", "baseline": "middle"},
     "encoding": {
      "x": {"datum": {"year": 2019, "month": 7, "date": 23, "hours": 13, "minutes": 46, "utc": true}, "type": "temporal"},
      "y": {"datum": 6.53, "type": "quantitative"},
      "text": {"field": "a"}
     }},
    {"data": {"name": "wm"},
     "mark": {"type": "text", "font": "Liberation Sans Narrow, DejaVu Sans Condensed, Liberation Sans", "fontSize": 23, "fontWeight": "bold", "color": "#f2c48e", "align": "left", "baseline": "middle"},
     "encoding": {
      "x": {"datum": {"year": 2019, "month": 7, "date": 23, "hours": 13, "minutes": 46, "utc": true}, "type": "temporal"},
      "y": {"datum": 6.53, "type": "quantitative"},
      "text": {"field": "b"}
     }}
   ],
   "resolve": {"scale": {"color": "independent"}, "legend": {"color": "independent"}}
  },
  {
   "width": 1154, "height": 40,
   "layer": [
    {"data": {"name": "ohlc"},
     "mark": {"type": "bar", "width": 5, "clip": true},
     "encoding": {
      "x": {"field": "date", "type": "temporal", "title": null,
            "scale": {"type": "utc", "domain": [1563489400000, 1574617300000]},
            "axis": {"values": [1564617600000, 1567296000000, 1569888000000, 1572566400000], "tickCount": 100, "labels": false, "ticks": false, "grid": true}},
      "y": {"field": "mh", "type": "quantitative", "title": null,
            "scale": {"domain": [-21.5, 18.5], "nice": false, "zero": false},
            "axis": {"orient": "right", "values": [0], "labelExpr": "'-0.0000'", "grid": true, "gridColor": "#dddddd"}},
      "color": {"condition": {"test": "datum.mh < 0", "value": "#ff1a1a"}, "value": "#14e614"}
     }},
    {"data": {"name": "macd"},
     "mark": {"type": "line", "strokeWidth": 1.5, "color": "#ff7a1a", "clip": true},
     "encoding": {
      "x": {"field": "date", "type": "temporal", "title": null},
      "y": {"field": "s", "type": "quantitative", "title": null}
     }},
    {"data": {"name": "macd"},
     "mark": {"type": "line", "strokeWidth": 1.5, "clip": true},
     "encoding": {
      "x": {"field": "date", "type": "temporal", "title": null},
      "y": {"field": "m", "type": "quantitative", "title": null},
      "color": {"datum": "MACD (12,26,9)", "scale": {"range": ["#2244ff"]},
                "legend": {"title": null, "symbolType": "M-1.417,-1.833V5.5", "labelExpr": "datum.label + '      \u200b'",
                           "encode": {"symbols": {"update": {"stroke": {"value": "#1a3cff"}, "strokeWidth": {"value": 2.5}}}}}}
     }}
   ],
   "resolve": {"scale": {"color": "independent"}, "legend": {"color": "independent"}}
  },
  {
   "width": 1154, "height": 33,
   "layer": [
    {"data": {"name": "ohlc"},
     "mark": {"type": "bar", "width": 6, "clip": true},
     "encoding": {
      "x": {"field": "date", "type": "temporal", "title": null,
            "scale": {"type": "utc", "domain": [1563489400000, 1574617300000]},
            "axis": {"values": [1564617600000, 1567296000000, 1569888000000, 1572566400000], "tickCount": 100, "labels": false, "ticks": false, "grid": true}},
      "y": {"field": "ewo", "type": "quantitative", "title": null,
            "scale": {"domain": [-17.7, 15.3], "nice": false, "zero": false},
            "axis": {"orient": "right", "values": [0], "labelExpr": "'-0.0000'", "grid": true, "gridColor": "#dddddd"}},
      "color": {"condition": {"test": "datum.ec == 'dn'", "value": "#ff1a1a"}, "datum": "Elliott Wave Oscillator (34,5)",
                "scale": {"range": ["#14e614"]},
                "legend": {"title": null, "symbolType": "M-1.417,-1.833V5.5", "labelExpr": "datum.label + '      \u200b'",
                           "encode": {"symbols": {"update": {"stroke": {"value": "#22d022"}, "strokeWidth": {"value": 2.5}}}}}}
     }}
   ]
  },
  {
   "width": 1154, "height": 40,
   "layer": [
    {"data": {"name": "zones"},
     "transform": [{"filter": "datum.z == 'ob'"}],
     "mark": {"type": "rect", "clip": true},
     "encoding": {
      "x": {"field": "s", "type": "temporal", "title": null,
            "scale": {"type": "utc", "domain": [1563489400000, 1574617300000]},
            "axis": {"values": [1563580800000, 1563840000000, 1564185600000, 1564617600000, 1564876800000, 1565136000000, 1565395200000, 1565654400000, 1565913600000, 1566172800000, 1566432000000, 1566691200000, 1566950400000, 1567296000000, 1567555200000, 1567814400000, 1568073600000, 1568332800000, 1568592000000, 1568851200000, 1569110400000, 1569369600000, 1569628800000, 1569888000000, 1570147200000, 1570406400000, 1570665600000, 1570924800000, 1571184000000, 1571443200000, 1571702400000, 1571961600000, 1572220800000, 1572566400000, 1572825600000, 1573084800000, 1573344000000, 1573603200000, 1573862400000, 1574121600000, 1574380800000],
                     "tickCount": 200,
                     "labelExpr": "utcdate(datum.value) == 1 || (utcmonth(datum.value) == 6 && utcdate(datum.value) == 20) ? utcFormat(datum.value, '%b') : utcFormat(datum.value, '%-d')",
                     "labelFlush": false, "labelOverlap": false, "grid": true,
                     "gridOpacity": {"condition": {"test": "utcdate(datum.value) == 1", "value": 1}, "value": 0}}},
      "x2": {"field": "e"},
      "y": {"field": "lo", "type": "quantitative", "title": null,
            "scale": {"domain": [0, 108], "nice": false, "zero": false},
            "axis": {"orient": "right", "values": [0], "labelExpr": "'0.0000'", "grid": false}},
      "y2": {"field": "hi"},
      "color": {"datum": "RSI (14,70,30,1)", "scale": {"range": ["#80f980"]},
                "legend": {"title": null, "symbolType": "M-1.417,-1.833V5.5", "labelExpr": "datum.label + '      \u200b'",
                           "encode": {"symbols": {"update": {"stroke": {"value": "#22d022"}, "strokeWidth": {"value": 2.5}}}}}}
     }},
    {"data": {"name": "zones"},
     "transform": [{"filter": "datum.z == 'os'"}],
     "mark": {"type": "rect", "color": "#f97f7f", "clip": true},
     "encoding": {
      "x": {"field": "s", "type": "temporal", "title": null},
      "x2": {"field": "e"},
      "y": {"field": "lo", "type": "quantitative", "title": null},
      "y2": {"field": "hi"}
     }},
    {"data": {"name": "zones"},
     "mark": {"type": "rule", "color": "#1a1a1a", "strokeWidth": 1, "clip": true},
     "encoding": {
      "x": {"field": "s", "type": "temporal", "title": null},
      "x2": {"field": "e"},
      "y": {"field": "edge", "type": "quantitative", "title": null}
     }},
    {"data": {"name": "rsi"},
     "mark": {"type": "line", "strokeWidth": 1.5, "color": "#3355ee", "clip": true},
     "encoding": {
      "x": {"field": "date", "type": "temporal", "title": null},
      "y": {"field": "v", "type": "quantitative", "title": null}
     }}
   ],
   "resolve": {"scale": {"color": "independent"}, "legend": {"color": "independent"}}
  }
 ],
 "resolve": {"scale": {"x": "independent", "color": "independent"}, "legend": {"color": "independent"}},
 "config": {
  "view": {"stroke": "#ccd6eb", "fill": "#f7f7f7"},
  "axis": {"labelFont": "Liberation Sans", "labelFontSize": 11, "labelColor": "#555555", "tickColor": "#999999", "domain": false, "gridColor": "#e3e3e3", "labelPadding": 4, "tickSize": 5},
  "axisX": {"grid": false, "labelOverlap": false},
  "legend": {"orient": "top-left", "offset": 5, "padding": 0, "fillColor": "rgba(85,85,85,0.92)", "labelColor": "#ffffff", "labelFont": "Liberation Sans", "labelFontSize": 11, "labelBaseline": "top", "labelOffset": 1, "symbolSize": 36, "symbolStrokeWidth": 2.5, "labelLimit": 400,
             "layout": {"top-left": {"direction": "vertical", "margin": 0}}}
 }
}
